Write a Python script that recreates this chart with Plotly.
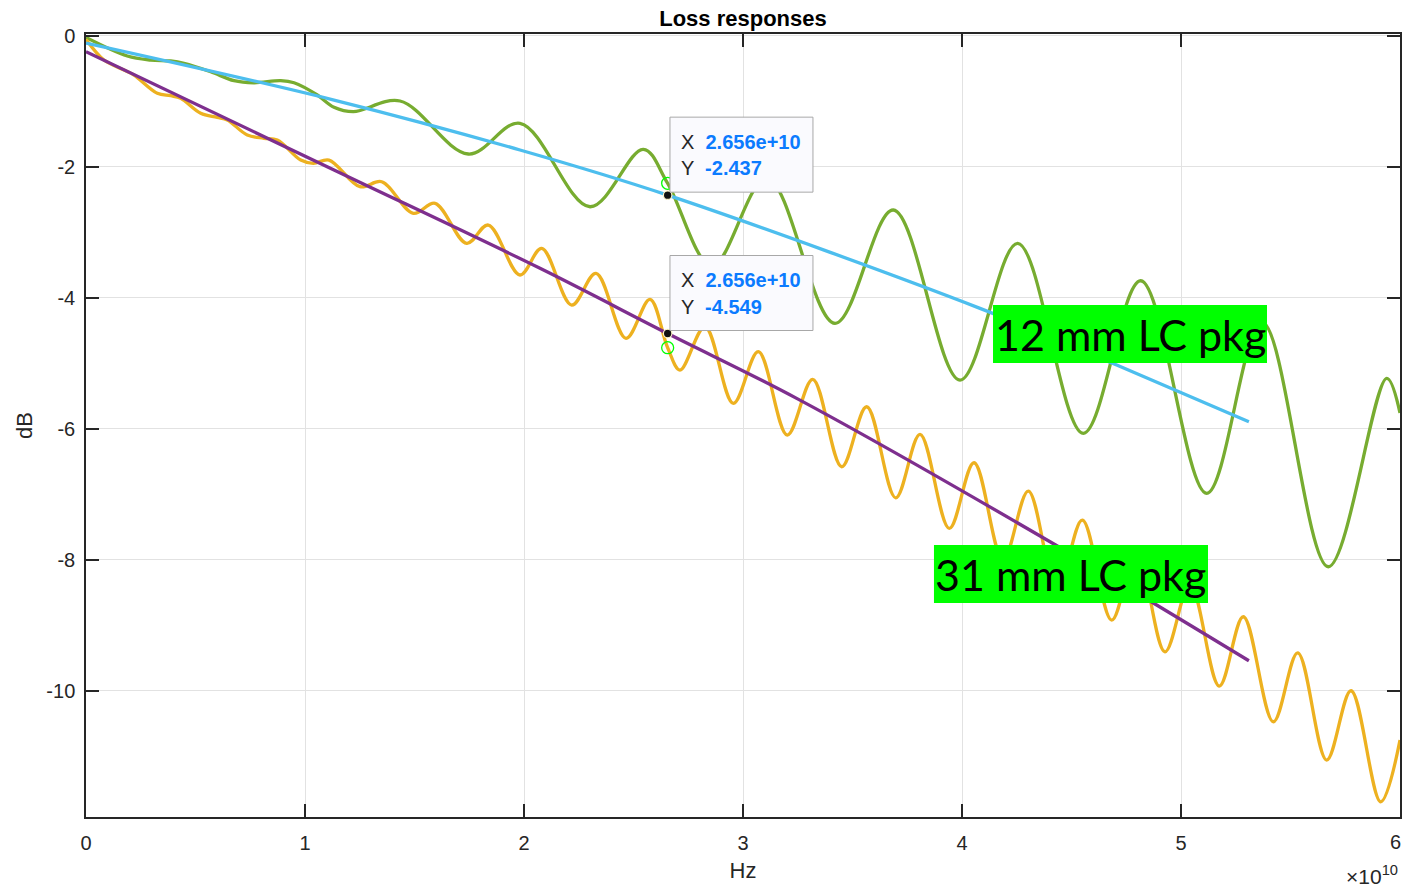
import plotly.graph_objects as go

# ---- measured loss responses (frequency in units of 1e10 Hz, loss in dB) ----
f12_e10 = [0.000, 0.1886, 0.2954, 0.3868, 0.4475, 0.5694, 0.6758, 0.7671, 0.8890, 0.9498,
           1.0562, 1.1324, 1.2205, 1.4338, 1.7457, 1.9817, 2.3014, 2.5447, 2.656, 2.8584,
           3.1096, 3.4201, 3.6863, 3.9909, 4.2543, 4.5539, 4.8160, 5.1174, 5.3699, 5.6726,
           5.9393, 6.000]
loss12_db = [-0.030, -0.313, -0.374, -0.389, -0.424, -0.553, -0.690, -0.721, -0.690, -0.721,
             -0.908, -1.096, -1.163, -1.000, -1.809, -1.340, -2.614, -1.737, -2.256, -3.519,
             -2.176, -4.394, -2.664, -5.260, -3.173, -6.073, -3.744, -6.989, -4.374, -8.110,
             -5.234, -5.763]

f31_e10 = [0.000, 0.0822, 0.1735, 0.2192, 0.3256, 0.3868, 0.4324, 0.5237, 0.5995, 0.6452,
           0.7365, 0.8128, 0.8735, 0.9804, 1.0379, 1.1096, 1.2511, 1.3502, 1.4945, 1.5936,
           1.7384, 1.8370, 1.9817, 2.0808, 2.2178, 2.3288, 2.4658, 2.5753, 2.656, 2.7123,
           2.8265, 2.9557, 3.0699, 3.2023, 3.3183, 3.4507, 3.5648, 3.6973, 3.8082, 3.9420,
           4.0548, 4.1872, 4.3027, 4.4338, 4.5493, 4.6836, 4.7968, 4.9269, 5.0411, 5.1749,
           5.2845, 5.4215, 5.5329, 5.6653, 5.7763, 5.9119, 6.000]
loss31_db = [-0.060, -0.374, -0.527, -0.603, -0.882, -0.919, -0.959, -1.188, -1.249, -1.290,
             -1.519, -1.569, -1.595, -1.901, -1.951, -1.901, -2.308, -2.232, -2.715, -2.562,
             -3.173, -2.893, -3.656, -3.249, -4.115, -3.631, -4.623, -4.027, -4.766, -5.107,
             -4.446, -5.615, -4.827, -6.099, -5.249, -6.583, -5.667, -7.057, -6.089, -7.524,
             -6.522, -8.008, -6.954, -8.466, -7.397, -8.924, -7.870, -9.408, -8.374, -9.931,
             -8.873, -10.476, -9.423, -11.061, -10.003, -11.698, -10.756]

# ---- fitted loss trends ----
fit12_f_e10 = [0.0, 1.1324, 1.9817, 2.656, 4.0822, 4.7064, 5.31]
fit12_db = [-0.115, -0.985, -1.748, -2.437, -4.165, -5.031, -5.896]
fit31_f_e10 = [0.0, 1.1324, 2.073, 2.656, 3.245, 4.402, 5.31]
fit31_db = [-0.247, -2.053, -3.554, -4.549, -5.539, -7.728, -9.545]

# ---- data tips ----
tip_f = 2.656e10
tip12_db = -2.437
tip31_db = -4.549
probe12_db = -2.256
probe31_db = -4.766

# ---- axes ----
xtick_vals = [0, 1e10, 2e10, 3e10, 4e10, 5e10, 6e10]
xtick_text = ["0", "1", "2", "3", "4", "5", "6"]
ytick_vals = [-10, -8, -6, -4, -2, 0]
ytick_text = ["-10", "-8", "-6", "-4", "-2", "0"]

label12 = "12 mm LC pkg"
label31 = "31 mm LC pkg"

E10 = 1e10
f12 = [v * E10 for v in f12_e10]
f31 = [v * E10 for v in f31_e10]
fit12_f = [v * E10 for v in fit12_f_e10]
fit31_f = [v * E10 for v in fit31_f_e10]

GREEN = "#77AC30"
ORANGE = "#EDB120"
CYAN = "#4DBEEE"
PURPLE = "#7E2F8E"
AXIS = "#262626"
TIPBLUE = "#0b7bff"
LIME = "#00FF00"
TXT_FONT = "Liberation Sans, Arial, sans-serif"
TICK_SIZE = 20

fig = go.Figure()
line_style = dict(shape="spline", smoothing=1.0)
fig.add_trace(go.Scatter(x=f12, y=loss12_db, mode="lines",
                         line=dict(color=GREEN, width=3.3, **line_style)))
fig.add_trace(go.Scatter(x=f31, y=loss31_db, mode="lines",
                         line=dict(color=ORANGE, width=3.3, **line_style)))
fig.add_trace(go.Scatter(x=fit12_f, y=fit12_db, mode="lines",
                         line=dict(color=CYAN, width=3.3, **line_style)))
fig.add_trace(go.Scatter(x=fit31_f, y=fit31_db, mode="lines",
                         line=dict(color=PURPLE, width=3.3, **line_style)))

# stale probe markers on the measured curves
fig.add_trace(go.Scatter(x=[tip_f, tip_f], y=[probe12_db, probe31_db], mode="markers",
                         marker=dict(symbol="circle-open", size=12, color=LIME,
                                     line=dict(width=1.3, color=LIME))))
# data tip points on the fits
fig.add_trace(go.Scatter(x=[tip_f, tip_f], y=[tip12_db, tip31_db], mode="markers",
                         marker=dict(symbol="circle", size=8.5, color="#111111",
                                     line=dict(width=1.2, color="#fff6c8"))))

shapes = []
annotations = []

# label boxes
for text, x0, x1, y0, y1 in [(label12, 4.1416e10, 5.3927e10, -4.1145, -5.0),
                             (label31, 3.872e10, 5.1233e10, -7.779, -8.664)]:
    shapes.append(dict(type="rect", xref="x", yref="y", x0=x0, x1=x1, y0=y0, y1=y1,
                       fillcolor=LIME, line=dict(width=0), layer="above"))
    annotations.append(dict(x=(x0 + x1) / 2, y=(y0 + y1) / 2, xref="x", yref="y",
                            text=text, showarrow=False, xanchor="center", yanchor="middle",
                            font=dict(family="Lato, sans-serif", size=43, color="black")))

# data tip boxes
for ydb in (tip12_db, tip31_db):
    shapes.append(dict(type="rect", xref="x", yref="y",
                       xsizemode="pixel", xanchor=tip_f, x0=2.3, x1=145.3,
                       ysizemode="pixel", yanchor=ydb, y0=3, y1=78,
                       fillcolor="#fafafe", line=dict(width=1, color="#a8a8a8"),
                       layer="above"))
    for row, (lab, val) in enumerate([("X", f"{tip_f:.3e}"), ("Y", f"{ydb:.3f}")]):
        annotations.append(dict(x=tip_f, y=ydb, xref="x", yref="y", showarrow=False,
                                xanchor="left", yanchor="middle",
                                xshift=11, yshift=53.3 - 26.6 * row,
                                text=f"{lab}  <b><span style='color:{TIPBLUE}'>{val}</span></b>",
                                font=dict(family=TXT_FONT, size=20, color=AXIS)))

# last x tick label sits at the figure edge, so it is drawn as an annotation
annotations.append(dict(x=xtick_vals[-1], y=-0.032, xref="x", yref="paper", showarrow=False,
                        xanchor="right", xshift=3, yanchor="middle", text=xtick_text[-1],
                        font=dict(family=TXT_FONT, size=TICK_SIZE, color=AXIS)))
xtick_shown = xtick_text[:-1] + [""]

# axis exponent
annotations.append(dict(x=1.0, y=-0.0745, xref="paper", yref="paper", showarrow=False,
                        xanchor="right", yanchor="middle",
                        text="\u00d710<sup>10</sup>",
                        font=dict(family=TXT_FONT, size=21, color=AXIS)))

axis_common = dict(showline=True, linecolor=AXIS, linewidth=1.5, mirror="ticks",
                   ticks="inside", ticklen=13, tickwidth=1.5, tickcolor=AXIS,
                   showgrid=True, gridcolor="#e2e2e2", gridwidth=1, zeroline=False,
                   automargin=False,
                   tickfont=dict(family=TXT_FONT, size=TICK_SIZE, color=AXIS))

fig.update_layout(
    width=1404, height=887,
    margin=dict(l=86, r=4, t=34, b=70),
    paper_bgcolor="white", plot_bgcolor="white",
    showlegend=False,
    title=dict(text="<b>Loss responses</b>", x=743 / 1404, xanchor="center",
               y=1 - 18 / 887, yanchor="middle", yref="container",
               font=dict(family=TXT_FONT, size=22, color="black")),
    xaxis=dict(range=[0, 6e10], tickvals=xtick_vals, ticktext=xtick_shown,
               title=dict(text="Hz", font=dict(family=TXT_FONT, size=22, color=AXIS), standoff=10),
               ticklabelstandoff=7, **axis_common),
    yaxis=dict(range=[-11.93, 0.023], tickvals=ytick_vals, ticktext=ytick_text,
               title=dict(text="dB", font=dict(family=TXT_FONT, size=22, color=AXIS), standoff=8),
               ticklabelstandoff=5, **axis_common),
    shapes=shapes,
    annotations=annotations,
)

fig.write_html("out.html")
